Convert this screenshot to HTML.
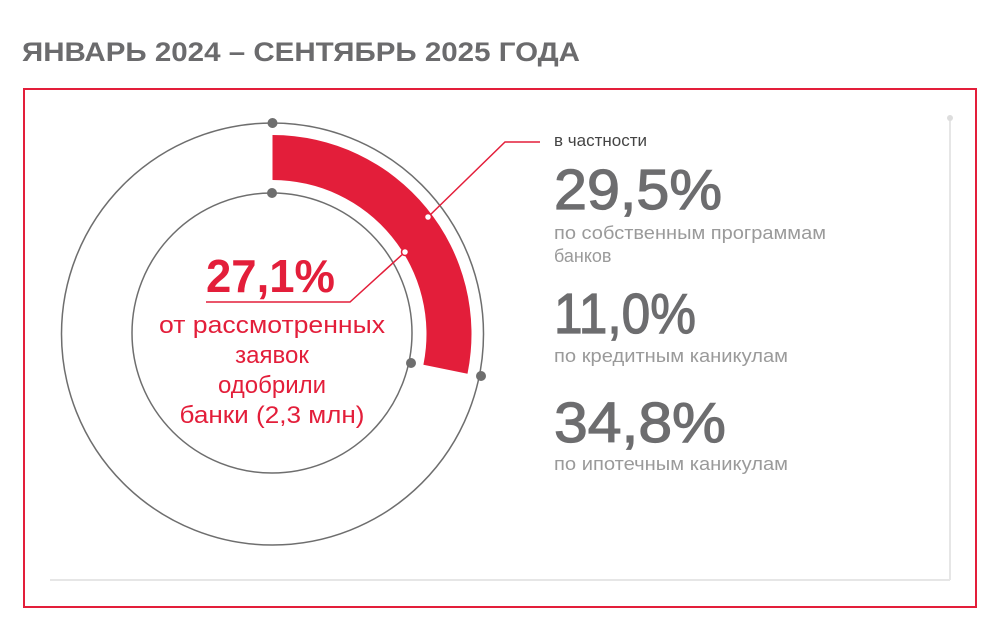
<!DOCTYPE html>
<html><head><meta charset="utf-8"><style>html,body{margin:0;padding:0;background:#fff}svg{display:block}</style></head>
<body>
<svg width="1000" height="634" viewBox="0 0 1000 634" xmlns="http://www.w3.org/2000/svg" font-family="'Liberation Sans', sans-serif">
<rect width="1000" height="634" fill="#fff"/>
<text x="22" y="61" font-size="27" font-weight="bold" fill="#6b6b6d" textLength="558" lengthAdjust="spacingAndGlyphs">ЯНВАРЬ 2024 – СЕНТЯБРЬ 2025 ГОДА</text>
<rect x="24" y="89" width="952" height="518" fill="none" stroke="#e31e3a" stroke-width="2"/>
<line x1="50" y1="580" x2="950" y2="580" stroke="#e6e6e6" stroke-width="2"/>
<line x1="950" y1="118" x2="950" y2="580" stroke="#e6e6e6" stroke-width="2"/>
<circle cx="950" cy="118" r="3" fill="#ddd"/>
<circle cx="272.5" cy="334" r="211" fill="none" stroke="#6e6e6e" stroke-width="1.5"/>
<circle cx="272" cy="333" r="140" fill="none" stroke="#6e6e6e" stroke-width="1.5"/>
<path d="M272.5 135 A199 199 0 0 1 467.5 373.7 L423.4 364.7 A154 154 0 0 0 272.5 180 Z" fill="#e31e3a"/>
<circle cx="272.5" cy="123" r="5" fill="#6e6e6e"/>
<circle cx="272" cy="193" r="5" fill="#6e6e6e"/>
<circle cx="481" cy="376" r="5" fill="#6e6e6e"/>
<circle cx="411" cy="363" r="5" fill="#6e6e6e"/>
<polyline points="428,217 505,142 540,142" fill="none" stroke="#e31e3a" stroke-width="1.5"/>
<circle cx="428" cy="217" r="3.5" fill="#fff" stroke="#e31e3a" stroke-width="1.5"/>
<polyline points="405,252 350,302 206,302" fill="none" stroke="#e31e3a" stroke-width="1.5"/>
<circle cx="405" cy="252" r="3.5" fill="#fff" stroke="#e31e3a" stroke-width="1.5"/>
<text x="206" y="292" font-size="46" font-weight="bold" fill="#e31e3a" textLength="129" lengthAdjust="spacingAndGlyphs">27,1%</text>
<g font-size="24" fill="#e31e3a" text-anchor="middle">
<text x="272" y="333" textLength="226" lengthAdjust="spacingAndGlyphs">от рассмотренных</text>
<text x="272" y="363">заявок</text>
<text x="272" y="393">одобрили</text>
<text x="272" y="423" textLength="185" lengthAdjust="spacingAndGlyphs">банки (2,3 млн)</text>
</g>
<text x="554" y="146" font-size="17" fill="#444">в частности</text>
<g font-size="57" fill="#6d6d6f" stroke="#6d6d6f" stroke-width="1.2">
<text x="554" y="209" textLength="168" lengthAdjust="spacingAndGlyphs">29,5%</text>
<text x="554" y="333" textLength="142" lengthAdjust="spacingAndGlyphs">11,0%</text>
<text x="554" y="442" textLength="172" lengthAdjust="spacingAndGlyphs">34,8%</text>
</g>
<g font-size="18" fill="#9a9a9a">
<text x="554" y="239" textLength="272" lengthAdjust="spacingAndGlyphs">по собственным программам</text>
<text x="554" y="262">банков</text>
<text x="554" y="362" textLength="234" lengthAdjust="spacingAndGlyphs">по кредитным каникулам</text>
<text x="554" y="470" textLength="234" lengthAdjust="spacingAndGlyphs">по ипотечным каникулам</text>
</g>
</svg>
</body></html>
